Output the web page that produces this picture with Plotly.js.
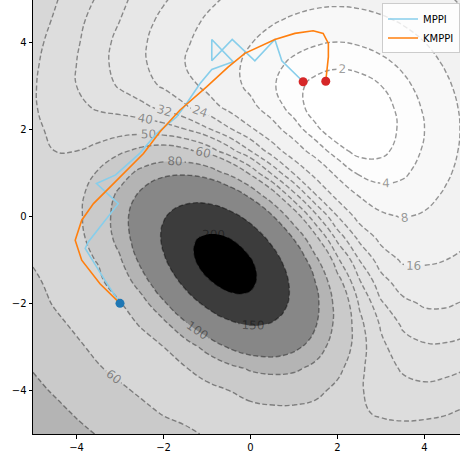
<!DOCTYPE html>
<html><head><meta charset="utf-8">
<script src="https://cdn.plot.ly/plotly-3.0.1.min.js"></script>
<style>html,body{margin:0;padding:0;background:#fff}#plot{width:460px;height:458px}</style>
</head><body><div id="plot"></div>
<script>
// cost map sampled on a 0.5 grid (rows: y from -5 to 5, columns: x from -5 to 5)
const gridX=[-5,-4.5,-4,-3.5,-3,-2.5,-2,-1.5,-1,-0.5,0,0.5,1,1.5,2,2.5,3,3.5,4,4.5,5];
const gridY=[-5,-4.5,-4,-3.5,-3,-2.5,-2,-1.5,-1,-0.5,0,0.5,1,1.5,2,2.5,3,3.5,4,4.5,5];
const costZ=[
[98,91,85,79,74,69,65,62,59,58,57,56,56,55,55,54,53,53,54,56,58],
[91,85,78,73,67,63,59,57,56,56,56,57,57,56,54,51,49,48,48,49,52],
[85,78,72,66,62,58,55,55,56,60,64,66,66,63,57,51,46,43,42,43,45],
[79,73,66,61,57,55,55,59,66,74,82,85,83,75,63,52,44,39,37,38,40],
[74,67,62,57,54,55,60,71,86,102,113,114,105,89,70,54,42,35,33,33,34],
[69,63,58,54,55,61,74,95,119,140,151,146,127,101,74,53,39,31,28,28,30],
[65,59,55,54,59,73,96,127,159,182,186,171,141,105,73,49,33,26,23,23,25],
[62,57,54,57,68,90,123,161,195,212,206,179,140,99,65,41,27,20,19,19,21],
[59,55,55,61,78,107,145,185,213,219,202,167,124,84,52,32,20,15,15,16,18],
[57,54,56,66,87,118,155,188,204,200,176,138,98,63,37,22,14,11,11,13,15],
[56,54,57,68,89,118,147,168,174,162,136,102,68,42,24,13,8.8,7.7,8.5,10,13],
[55,53,56,67,84,105,124,134,132,117,93,66,42,24,13,7.4,5.2,5.2,6.5,8.6,11],
[54,52,54,61,72,85,94,96,90,76,57,38,23,13,6.4,3.5,2.9,3.5,5.1,7.3,10],
[53,50,50,53,58,63,66,63,56,44,32,20,11,5.6,2.6,1.4,1.6,2.6,4.3,6.5,9.3],
[52,48,45,45,46,46,44,40,33,25,17,10,5.2,2.3,0.9,0.6,1.2,2.3,4.0,6.3,9.0],
[51,46,42,39,37,34,30,25,20,14,9.4,5.5,2.8,1.2,0.5,0.6,1.3,2.5,4.3,6.5,9.3],
[51,45,40,36,31,27,23,19,14,10,6.8,4.3,2.5,1.5,1.1,1.3,2.0,3.3,5.0,7.3,10],
[52,45,40,34,30,25,21,16,13,9.5,6.8,4.8,3.4,2.6,2.3,2.5,3.3,4.5,6.3,8.5,11],
[53,47,41,35,30,25,21,17,13,11,8.2,6.3,5.0,4.3,4.0,4.3,5.0,6.3,8.0,10,13],
[55,49,42,37,32,27,22,19,15,13,10,8.5,7.3,6.5,6.3,6.5,7.3,8.5,10,13,15],
[58,51,45,39,34,29,25,21,18,15,13,11,10,9.3,9.0,9.3,10,11,13,15,18]];
// finer 0.25 sampling around the obstacle (rows: y from -3.5 to 1.25, columns: x from -3.25 to 2)
const fineX=[-3.25,-3,-2.75,-2.5,-2.25,-2,-1.75,-1.5,-1.25,-1,-0.75,-0.5,-0.25,0,0.25,0.5,0.75,1,1.25,1.5,1.75,2];
const fineY=[-3.5,-3.25,-3,-2.75,-2.5,-2.25,-2,-1.75,-1.5,-1.25,-1,-0.75,-0.5,-0.25,0,0.25,0.5,0.75,1,1.25];
const fineZ=[
[59,57,55,55,54,55,56,59,62,66,70,74,78,82,84,85,85,83,79,75,69,63],
[57,55,54,54,55,57,60,64,69,74,80,86,92,96,98,99,97,94,88,82,74,67],
[55,54,54,55,57,60,65,71,78,86,94,102,108,113,115,114,111,105,98,89,80,70],
[54,54,55,57,61,66,73,82,91,101,111,120,127,131,132,130,125,117,107,96,84,73],
[54,55,57,61,67,74,84,95,107,119,131,140,147,151,150,146,138,127,115,101,87,74],
[55,57,60,66,74,84,97,110,125,139,152,161,168,170,167,160,149,135,120,104,89,75],
[56,59,65,73,84,96,111,127,144,159,172,182,187,186,181,171,157,141,123,105,88,73],
[58,63,71,81,94,110,127,145,163,178,191,199,202,199,190,177,161,142,123,104,86,70],
[61,68,78,90,105,123,142,161,179,195,206,212,212,206,194,179,160,140,119,99,81,65],
[65,73,85,99,116,135,155,175,193,207,216,219,216,207,193,175,155,134,113,93,75,59],
[68,78,91,107,126,145,166,185,201,213,219,219,213,202,186,167,146,124,103,84,67,52],
[72,83,97,114,133,152,172,189,203,212,215,212,204,191,174,154,133,112,92,74,58,45],
[75,87,101,118,136,155,173,188,199,204,205,200,190,176,158,138,118,98,79,63,49,37],
[77,89,103,120,137,153,168,180,188,192,190,183,172,157,139,120,101,83,66,52,40,30],
[78,89,103,118,133,147,159,168,173,174,171,162,151,136,119,102,84,68,54,42,32,24],
[77,88,100,113,125,137,146,152,155,154,149,140,128,114,99,83,68,55,43,32,24,18],
[75,84,94,105,115,124,130,134,135,132,126,117,106,93,80,66,54,42,32,24,18,13],
[71,79,87,95,103,109,113,115,114,110,104,95,85,74,62,51,41,32,24,18,13,9.3],
[66,72,79,85,90,94,96,96,94,90,84,76,66,57,47,38,30,23,17,13,9.0,6.4],
[61,65,70,74,77,79,80,79,76,71,65,58,51,43,35,28,22,16,12,8.5,6.0,4.1]];
const outerLevels=[2,4,8,16,24,32,40,50,60,80];
const outerColors=['#fdfdfd','#f8f8f8','#f2f2f2','#ececec','#e7e7e7','#e2e2e2','#dddddd','#d7d7d7','#cacaca','#b4b4b4'];
const innerLevels=[100,150,200];
const innerColors=['#878787','#3c3c3c','#000000'];
const mppiX=[-3.0,-3.36,-3.80,-3.73,-3.04,-3.54,-3.10,-2.54,-2.16,-1.70,-1.47,-1.16,-0.89,-0.40,-0.89,-0.89,-0.42,0.10,0.56,0.72,1.21];
const mppiY=[-2.0,-1.45,-0.74,-0.59,0.29,0.75,0.95,1.45,1.90,2.28,2.59,3.05,3.37,3.55,4.06,3.57,4.06,3.57,4.06,3.57,3.09];
const kmppiX=[-3.0,-3.46,-3.88,-4.03,-3.88,-3.61,-3.23,-2.92,-2.46,-2.08,-1.62,-1.01,-0.51,-0.13,0.56,1.02,1.44,1.67,1.79,1.79,1.75,1.73];
const kmppiY=[-2.0,-1.55,-1.01,-0.55,-0.09,0.29,0.67,0.98,1.44,1.94,2.44,2.97,3.43,3.74,4.06,4.20,4.26,4.20,3.97,3.66,3.36,3.10];
const startX=[-3.0],startY=[-2.0];
const endX=[1.21,1.73],endY=[3.09,3.10];

const lineColor='rgba(0,0,0,0.4)';
function fillTrace(x,y,z,L,c,sm){return {type:'contour',x:x,y:y,z:z,hoverinfo:'skip',showscale:false,showlegend:false,
 contours:{type:'constraint',operation:'<',value:L},fillcolor:c,line:{width:0,smoothing:sm}};}
function lineTrace(x,y,z,L,sm){return {type:'contour',x:x,y:y,z:z,hoverinfo:'skip',showscale:false,showlegend:false,autocontour:false,
 contours:{coloring:'none',start:L,end:L,size:1,showlabels:true,labelfont:{size:12,color:lineColor,family:'DejaVu Sans'}},
 line:{color:lineColor,width:1.4,dash:'5px,2.5px',smoothing:sm}};}
const traces=[];
outerLevels.forEach((L,i)=>traces.push(fillTrace(gridX,gridY,costZ,L,outerColors[i],1.3)));
innerLevels.forEach((L,i)=>traces.push(fillTrace(fineX,fineY,fineZ,L,innerColors[i],1)));
outerLevels.forEach(L=>traces.push(lineTrace(gridX,gridY,costZ,L,1.3)));
innerLevels.forEach(L=>traces.push(lineTrace(fineX,fineY,fineZ,L,1)));
traces.push({type:'scatter',mode:'lines',name:'MPPI',x:mppiX,y:mppiY,line:{color:'#87ceeb',width:1.6},hoverinfo:'skip'});
traces.push({type:'scatter',mode:'lines',name:'KMPPI',x:kmppiX,y:kmppiY,line:{color:'#ff7f0e',width:1.6},hoverinfo:'skip'});
traces.push({type:'scatter',mode:'markers',x:startX,y:startY,marker:{color:'#1f77b4',size:9},showlegend:false,hoverinfo:'skip'});
traces.push({type:'scatter',mode:'markers',x:endX,y:endY,marker:{color:'#d62728',size:9},showlegend:false,hoverinfo:'skip'});
const layout={width:460,height:458,margin:{l:33,r:0,t:0,b:24},paper_bgcolor:'#fff',plot_bgcolor:'#ffffff',
 font:{family:'DejaVu Sans',size:10,color:'#000'},
 xaxis:{range:[-5,4.816],tickvals:[-4,-2,0,2,4],ticks:'outside',ticklen:3.5,tickcolor:'#000',showline:true,linecolor:'#000',linewidth:1,showgrid:false,zeroline:false,tickfont:{size:10}},
 yaxis:{range:[-5,4.966],tickvals:[-4,-2,0,2,4],ticks:'outside',ticklen:3.5,tickcolor:'#000',showline:true,linecolor:'#000',linewidth:1,showgrid:false,zeroline:false,tickfont:{size:10}},
 legend:{x:1,xanchor:'right',y:0.992,yanchor:'top',bgcolor:'rgba(255,255,255,0.8)',bordercolor:'#cccccc',borderwidth:1,font:{size:10},tracegroupgap:0},
 showlegend:true};
Plotly.newPlot('plot',traces,layout,{staticPlot:true});
</script></body></html>
